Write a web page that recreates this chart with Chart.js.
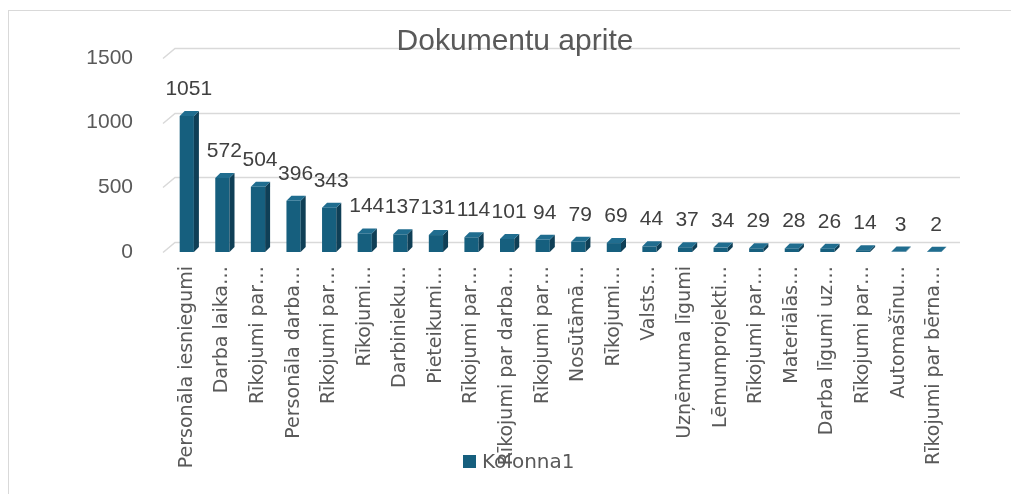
<!DOCTYPE html>
<html>
<head>
<meta charset="utf-8">
<script src="https://cdn.jsdelivr.net/npm/chart.js@4/dist/chart.umd.min.js"></script>
<style>
  html, body { margin: 0; padding: 0; background: #fff; }
  #wrap { width: 1011px; height: 494px; }
</style>
</head>
<body>
<div id="wrap"><canvas id="c" width="1011" height="494"></canvas></div>
<script>
const categories = [
  'Personāla iesniegumi', 'Darba laika…', 'Rīkojumi par…', 'Personāla darba…',
  'Rīkojumi par…', 'Rīkojumi…', 'Darbinieku…', 'Pieteikumi…', 'Rīkojumi par…',
  'Rīkojumi par darba…', 'Rīkojumi par…', 'Nosūtāmā…', 'Rīkojumi…', 'Valsts…',
  'Uzņēmuma līgumi', 'Lēmumprojekti…', 'Rīkojumi par…', 'Materiālās…',
  'Darba līgumi uz…', 'Rīkojumi par…', 'Automašīnu…', 'Rīkojumi par bērna…'
];
const kolonna1 = [1051, 572, 504, 396, 343, 144, 137, 131, 114, 101, 94, 79, 69, 44, 37, 34, 29, 28, 26, 14, 3, 2];
const yTicks = [0, 500, 1000, 1500];

const FONT = '"Liberation Sans", Arial, sans-serif';
const WIDE = '"DejaVu Sans", sans-serif';
const TEXT = '#595959';
const DEPTH_X = 5, DEPTH_Y = 5;

// back wall gridlines, frame, title, fake 3D bar faces, value labels, legend
const decor = {
  id: 'decor',
  beforeDraw(chart) {
    const ctx = chart.ctx, y = chart.scales.y, a = chart.chartArea;
    ctx.save();
    ctx.strokeStyle = '#d9d9d9';
    ctx.lineWidth = 1;
    ctx.strokeRect(8.5, 10.5, 1200, 600);
    ctx.lineWidth = 1.5;
    yTicks.forEach(v => {
      const py = Math.round(y.getPixelForValue(v)) + 0.5;
      ctx.beginPath();
      ctx.moveTo(a.left - 6, py);
      ctx.lineTo(a.left + 6, py - 10);
      ctx.lineTo(a.right + 8, py - 10);
      ctx.stroke();
    });
    ctx.restore();
  },
  afterDatasetsDraw(chart) {
    const ctx = chart.ctx;
    const meta = chart.getDatasetMeta(0);
    ctx.save();
    meta.data.forEach((bar, i) => {
      const l = bar.x - bar.width / 2, r = bar.x + bar.width / 2;
      const t = bar.y, b = bar.base;
      // side face
      ctx.fillStyle = '#0f3f56';
      ctx.beginPath();
      ctx.moveTo(r, t); ctx.lineTo(r + DEPTH_X, t - DEPTH_Y);
      ctx.lineTo(r + DEPTH_X, b - DEPTH_Y); ctx.lineTo(r, b);
      ctx.closePath(); ctx.fill();
      // top face
      ctx.fillStyle = '#206d8f';
      ctx.beginPath();
      ctx.moveTo(l, t); ctx.lineTo(l + DEPTH_X, t - DEPTH_Y);
      ctx.lineTo(r + DEPTH_X, t - DEPTH_Y); ctx.lineTo(r, t);
      ctx.closePath(); ctx.fill();
      // value label
      ctx.fillStyle = '#404040';
      ctx.font = '21px ' + FONT;
      ctx.textAlign = 'center';
      ctx.textBaseline = 'alphabetic';
      ctx.fillText(String(kolonna1[i]), bar.x + 2, t - 21);
    });
    ctx.restore();
  },
  afterDraw(chart) {
    const ctx = chart.ctx;
    ctx.save();
    ctx.fillStyle = TEXT;
    ctx.font = '30px ' + FONT;
    ctx.textAlign = 'center';
    ctx.textBaseline = 'alphabetic';
    ctx.fillText('Dokumentu aprite', 515, 50);
    // legend
    ctx.fillStyle = '#165f7e';
    ctx.fillRect(463, 455, 13, 13);
    ctx.fillStyle = TEXT;
    ctx.font = '20px ' + WIDE;
    ctx.textAlign = 'left';
    ctx.fillText(chart.data.datasets[0].label, 482, 468);
    ctx.restore();
  }
};

new Chart(document.getElementById('c'), {
  type: 'bar',
  data: {
    labels: categories,
    datasets: [{
      label: 'Kolonna1',
      data: kolonna1,
      backgroundColor: '#165f7e',
      borderWidth: 0,
      categoryPercentage: 1,
      barPercentage: 0.4
    }]
  },
  options: {
    responsive: false,
    animation: false,
    layout: { padding: { top: 58, right: 59, left: 0, bottom: 0 } },
    plugins: { legend: { display: false }, title: { display: false }, tooltip: { enabled: false } },
    scales: {
      x: {
        grid: { display: false },
        border: { display: false },
        ticks: {
          color: TEXT, font: { family: WIDE, size: 19 },
          minRotation: 90, maxRotation: 90, autoSkip: false, padding: 6
        },
        afterFit(s) { s.height = 242; }
      },
      y: {
        min: 0, max: 1500,
        afterBuildTicks(s) { s.ticks = yTicks.map(v => ({ value: v })); },
        grid: { display: false },
        border: { display: false },
        ticks: {
          color: TEXT, font: { family: FONT, size: 21 }, padding: 28,
          callback: v => String(v)
        },
        afterFit(s) { s.width = 169; }
      }
    }
  },
  plugins: [decor]
});
</script>
</body>
</html>
